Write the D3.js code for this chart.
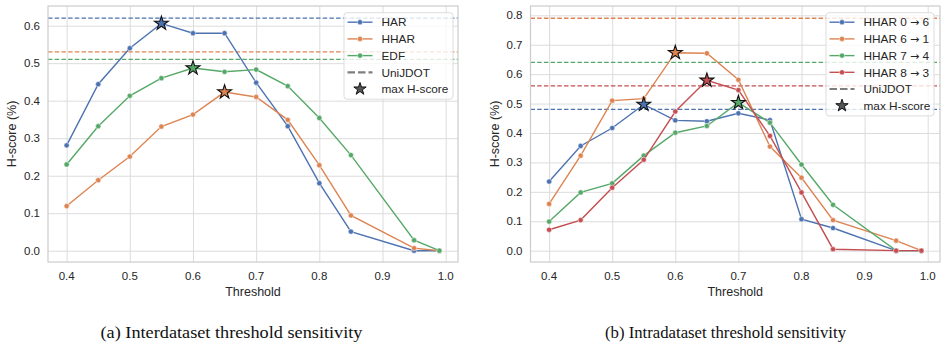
<html>
<head>
<script src="https://d3js.org/d3.v7.min.js"></script>
<style>
  body { margin: 0; background: #fff; }
  text { font-family: "Liberation Sans", Arial, sans-serif; fill: #262626; }
  .caption { font-family: "Liberation Serif", serif; font-size: 17px; fill: #111; }
  .grid line { stroke: #dcdcdc; stroke-width: 1; }
  .grid .domain { stroke: none; }
</style>
</head>
<body>
<svg id="fig" width="947" height="351"></svg>
<script>
// shared x values
const thresholds = [0.4, 0.45, 0.5, 0.55, 0.6, 0.65, 0.7, 0.75, 0.8, 0.85, 0.95, 0.99];
const xTicks = [0.4, 0.5, 0.6, 0.7, 0.8, 0.9, 1.0];

// (a) interdataset
const interNames = ["HAR", "HHAR", "EDF"];
const interHAR  = [0.281, 0.444, 0.540, 0.606, 0.580, 0.580, 0.448, 0.332, 0.180, 0.051, 0.0, 0.0];
const interHHAR = [0.119, 0.188, 0.251, 0.331, 0.363, 0.423, 0.410, 0.349, 0.228, 0.094, 0.007, 0.0];
const interEDF  = [0.230, 0.332, 0.413, 0.460, 0.487, 0.477, 0.483, 0.439, 0.354, 0.255, 0.028, 0.0];
const interUniJDOT = [0.62, 0.53, 0.51];
const interYTicks = [0.0, 0.1, 0.2, 0.3, 0.4, 0.5, 0.6];

// (b) intradataset
const intraNames = ["HHAR 0 \u2192 6", "HHAR 6 \u2192 1", "HHAR 7 \u2192 4", "HHAR 8 \u2192 3"];
const intra06 = [0.235, 0.356, 0.417, 0.497, 0.443, 0.440, 0.467, 0.444, 0.107, 0.077, 0.0, 0.0];
const intra61 = [0.159, 0.323, 0.510, 0.517, 0.673, 0.671, 0.581, 0.354, 0.248, 0.104, 0.034, 0.0];
const intra74 = [0.099, 0.198, 0.229, 0.323, 0.401, 0.424, 0.503, 0.435, 0.293, 0.156, 0.0, 0.0];
const intra83 = [0.071, 0.104, 0.214, 0.309, 0.473, 0.579, 0.546, 0.390, 0.198, 0.005, 0.0, 0.0];
const intraUniJDOT = [0.48, 0.79, 0.64, 0.56];
const intraYTicks = [0.0, 0.1, 0.2, 0.3, 0.4, 0.5, 0.6, 0.7, 0.8];

const colors = ["#4c72b0", "#dd8452", "#55a868", "#c44e52"];

const svg = d3.select("#fig");

function starPath(R) {
  let pts = [];
  for (let i = 0; i < 10; i++) {
    let r = i % 2 === 0 ? R : R * 0.382;
    let a = -Math.PI / 2 + i * Math.PI / 5;
    pts.push([r * Math.cos(a), r * Math.sin(a)]);
  }
  return "M" + pts.map(p => p.join(",")).join("L") + "Z";
}

// legend label, arrow drawn in DejaVu Sans (Liberation's arrow is tiny)
function addLabel(sel, str) {
  const parts = str.split("\u2192");
  sel.append("tspan").text(parts[0]);
  if (parts.length > 1) {
    sel.append("tspan").attr("font-family", "DejaVu Sans").attr("font-size", 11).text("\u2192");
    sel.append("tspan").text(parts[1]);
  }
}

function drawPanel(cfg) {
  const g = svg.append("g");
  const w = cfg.right - cfg.left, h = cfg.bottom - cfg.top;
  const x = d3.scaleLinear().domain([0.3705, 1.0195]).range([cfg.left, cfg.right]);
  const y = d3.scaleLinear().domain(cfg.yDomain).range([cfg.bottom, cfg.top]);

  // grid
  g.append("g").attr("class", "grid")
    .attr("transform", `translate(0,${cfg.top})`)
    .call(d3.axisBottom(x).tickValues(xTicks).tickSize(h).tickFormat(""));
  g.append("g").attr("class", "grid")
    .attr("transform", `translate(${cfg.left},0)`)
    .call(d3.axisLeft(y).tickValues(cfg.yTicks).tickSize(-w).tickFormat(""));

  // tick labels
  g.selectAll(".xl").data(xTicks).join("text")
    .attr("x", d => x(d)).attr("y", cfg.bottom + 18)
    .attr("text-anchor", "middle").attr("font-size", 11.5)
    .text(d => d3.format(".1f")(d));
  g.selectAll(".yl").data(cfg.yTicks).join("text")
    .attr("x", cfg.left - 8).attr("y", d => y(d) + 4)
    .attr("text-anchor", "end").attr("font-size", 11.5)
    .text(d => d3.format(".1f")(d));

  g.append("text").attr("x", (cfg.left + cfg.right) / 2).attr("y", cfg.bottom + 34)
    .attr("text-anchor", "middle").attr("font-size", 12.5).text("Threshold");
  g.append("text")
    .attr("transform", `translate(${cfg.left - 32},${(cfg.top + cfg.bottom) / 2}) rotate(-90)`)
    .attr("text-anchor", "middle").attr("font-size", 12.5).text("H-score (%)");

  const clipId = "clip" + cfg.id;
  svg.append("clipPath").attr("id", clipId).append("rect")
    .attr("x", cfg.left).attr("y", cfg.top).attr("width", w).attr("height", h);

  // UniJDOT dashed references
  g.append("g").attr("clip-path", `url(#${clipId})`)
    .selectAll("line").data(cfg.uni).join("line")
    .attr("x1", cfg.left).attr("x2", cfg.right)
    .attr("y1", d => y(d)).attr("y2", d => y(d))
    .attr("stroke", (d, i) => colors[i]).attr("stroke-width", 1.3)
    .attr("stroke-dasharray", "4.5,2.2");

  const line = d3.line().x((d, i) => x(thresholds[i])).y(d => y(d));
  cfg.series.forEach((s, k) => {
    g.append("path").attr("d", line(s)).attr("fill", "none")
      .attr("stroke", colors[k]).attr("stroke-width", 1.4);
    g.selectAll(null).data(s).join("circle")
      .attr("cx", (d, i) => x(thresholds[i])).attr("cy", d => y(d))
      .attr("r", 2.6).attr("fill", colors[k]).attr("stroke", "#fff").attr("stroke-width", 0.5);
  });
  // stars at max
  cfg.series.forEach((s, k) => {
    const i = d3.maxIndex(s);
    g.append("path").attr("d", starPath(7.3))
      .attr("transform", `translate(${x(thresholds[i])},${y(s[i])})`)
      .attr("fill", colors[k]).attr("stroke", "#111").attr("stroke-width", 1.1);
  });

  // frame
  g.append("rect").attr("x", cfg.left).attr("y", cfg.top).attr("width", w).attr("height", h)
    .attr("fill", "none").attr("stroke", "#cccccc").attr("stroke-width", 1.2);

  // legend
  const L = cfg.legend;
  const n = cfg.names.length + 2;
  const lg = g.append("g");
  lg.append("rect").attr("x", L.x).attr("y", L.y).attr("width", L.w).attr("height", n * 16.7 + 3)
    .attr("rx", 3).attr("fill", "#fff").attr("fill-opacity", 0.8)
    .attr("stroke", "#dddddd").attr("stroke-width", 1);
  cfg.names.forEach((name, k) => {
    const yy = L.y + 9.5 + k * 16.7;
    lg.append("line").attr("x1", L.x + 3.5).attr("x2", L.x + 28.5).attr("y1", yy).attr("y2", yy)
      .attr("stroke", colors[k]).attr("stroke-width", 1.4);
    lg.append("circle").attr("cx", L.x + 16).attr("cy", yy).attr("r", 2.6)
      .attr("fill", colors[k]).attr("stroke", "#fff").attr("stroke-width", 0.5);
    const t = lg.append("text").attr("x", L.x + 37.5).attr("y", yy + 4.2).attr("font-size", 11.8);
    addLabel(t, name);
  });
  let yy = L.y + 9.5 + cfg.names.length * 16.7;
  lg.append("line").attr("x1", L.x + 3.5).attr("x2", L.x + 28.5).attr("y1", yy).attr("y2", yy)
    .attr("stroke", "#7f7f7f").attr("stroke-width", 2.2).attr("stroke-dasharray", "7.5,3");
  lg.append("text").attr("x", L.x + 37.5).attr("y", yy + 4.2).attr("font-size", 11.8).text("UniJDOT");
  yy += 16.7;
  lg.append("path").attr("d", starPath(6.5)).attr("transform", `translate(${L.x + 16},${yy})`)
    .attr("fill", "#555").attr("stroke", "#111").attr("stroke-width", 1);
  lg.append("text").attr("x", L.x + 37.5).attr("y", yy + 4.2).attr("font-size", 11.8).text("max H-score");

  svg.append("text").attr("class", "caption")
    .attr("x", cfg.capX - cfg.capW / 2).attr("y", 338)
    .attr("textLength", cfg.capW).attr("lengthAdjust", "spacingAndGlyphs")
    .text(cfg.caption);
}

drawPanel({
  id: "a", left: 48, right: 458, top: 6, bottom: 262,
  yDomain: [-0.0301, 0.6525], yTicks: interYTicks,
  series: [interHAR, interHHAR, interEDF], names: interNames, uni: interUniJDOT,
  legend: { x: 344, y: 12.7, w: 109 },
  caption: "(a) Interdataset threshold sensitivity", capX: 231.5, capW: 262
});
drawPanel({
  id: "b", left: 530.5, right: 940, top: 6, bottom: 262,
  yDomain: [-0.0385, 0.8317], yTicks: intraYTicks,
  series: [intra06, intra61, intra74, intra83], names: intraNames, uni: intraUniJDOT,
  legend: { x: 826, y: 12.7, w: 108 },
  caption: "(b) Intradataset threshold sensitivity", capX: 725.5, capW: 241
});
</script>
</body>
</html>
